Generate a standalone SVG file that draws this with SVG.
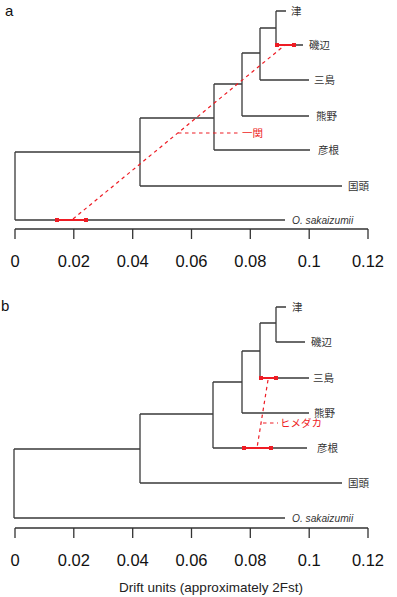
<svg xmlns="http://www.w3.org/2000/svg" width="397" height="597" viewBox="0 0 397 597">
<style>
.br{fill:none;stroke:#3a3a3a;stroke-width:1.3}
.ax{fill:none;stroke:#333;stroke-width:1.3}
.lab{font-family:"Liberation Sans","Noto Sans CJK JP",sans-serif;font-size:10.5px;fill:#333}
.sp{font-family:"Liberation Sans",sans-serif;font-size:10.2px;font-style:italic;fill:#333}
.tk{font-family:"Liberation Sans",sans-serif;font-size:16.5px;fill:#111;text-anchor:middle}
.pl{font-family:"Liberation Sans",sans-serif;font-size:15px;fill:#111}
.red{font-family:"Liberation Sans","Noto Sans CJK JP",sans-serif;font-size:10.5px;fill:#ee1c24}
.eb{stroke:#ee1c24;stroke-width:2;fill:none}
.sq{fill:#ee1c24}
.ds{stroke:#ee1c24;stroke-width:1.2;stroke-dasharray:3.5,3.5;fill:none}
</style>
<defs>
<g id="axis">
<path class="ax" d="M15,0H368M15,0V10M73.8,0V10M132.7,0V10M191.5,0V10M250.3,0V10M309.2,0V10M368,0V10"/>
<text class="tk" x="15" y="38">0</text>
<text class="tk" x="73.8" y="38">0.02</text>
<text class="tk" x="132.7" y="38">0.04</text>
<text class="tk" x="191.5" y="38">0.06</text>
<text class="tk" x="250.3" y="38">0.08</text>
<text class="tk" x="309.2" y="38">0.1</text>
<text class="tk" x="368" y="38">0.12</text>
</g>
</defs>

<text class="pl" x="5" y="16">a</text>
<text class="pl" x="1" y="311">b</text>

<g id="tree-a">
<path class="br" d="M15,152V220M15,152H140M15,220H285M140,118V186M140,186H342M140,118H214M214,84V150M214,150H310M214,84H242M242,53V116M242,116H309M242,53H260M260,28V80M260,80H309M260,28H276M276,11V45M276,11H286M276,45H303"/>
</g>
<g id="labels-a">
<text class="lab" x="291" y="15">津</text>
<text class="lab" x="309" y="49">磯辺</text>
<text class="lab" x="314" y="84">三島</text>
<text class="lab" x="316" y="120">熊野</text>
<text class="lab" x="318" y="154">彦根</text>
<text class="lab" x="348" y="190">国頭</text>
<text class="sp" x="292" y="224">O. sakaizumii</text>
</g>
<g id="admix-a">
<path class="ds" d="M73,219L285,45"/>
<path class="ds" d="M178,133H241"/>
<text class="red" x="242" y="137">一関</text>
<path class="eb" d="M277,45H294M57,220H86"/>
<rect class="sq" x="275" y="43" width="4" height="4"/>
<rect class="sq" x="292" y="43" width="4" height="4"/>
<rect class="sq" x="55" y="218" width="4" height="4"/>
<rect class="sq" x="84" y="218" width="4" height="4"/>
</g>
<g id="axis-a"><use href="#axis" transform="translate(0,229)"/></g>

<g id="tree-b">
<path class="br" d="M14,449V518M14,449H140M14,518H285M140,414V483M140,483H342M140,414H213M213,382V448M213,448H307M213,382H242M242,351V413M242,413H309M242,351H260M260,323V378M260,378H309M260,323H276M276,307V342M276,307H286M276,342H305"/>
</g>
<g id="labels-b">
<text class="lab" x="292" y="311">津</text>
<text class="lab" x="311" y="346">磯辺</text>
<text class="lab" x="313" y="382">三島</text>
<text class="lab" x="314" y="417">熊野</text>
<text class="lab" x="317" y="452">彦根</text>
<text class="lab" x="348" y="487">国頭</text>
<text class="sp" x="292" y="522">O. sakaizumii</text>
</g>
<g id="admix-b">
<path class="ds" d="M268,380L257,448"/>
<path class="ds" d="M263,423H278"/>
<text class="red" x="280" y="427">ヒメダカ</text>
<path class="eb" d="M261,378H276M244,448H271"/>
<rect class="sq" x="259" y="376" width="4" height="4"/>
<rect class="sq" x="274" y="376" width="4" height="4"/>
<rect class="sq" x="242" y="446" width="4" height="4"/>
<rect class="sq" x="269" y="446" width="4" height="4"/>
</g>
<g id="axis-b"><use href="#axis" transform="translate(0,528)"/></g>
<text x="211" y="592" style="font-family:'Liberation Sans',sans-serif;font-size:13.5px;fill:#222;text-anchor:middle">Drift units (approximately 2Fst)</text>
</svg>
